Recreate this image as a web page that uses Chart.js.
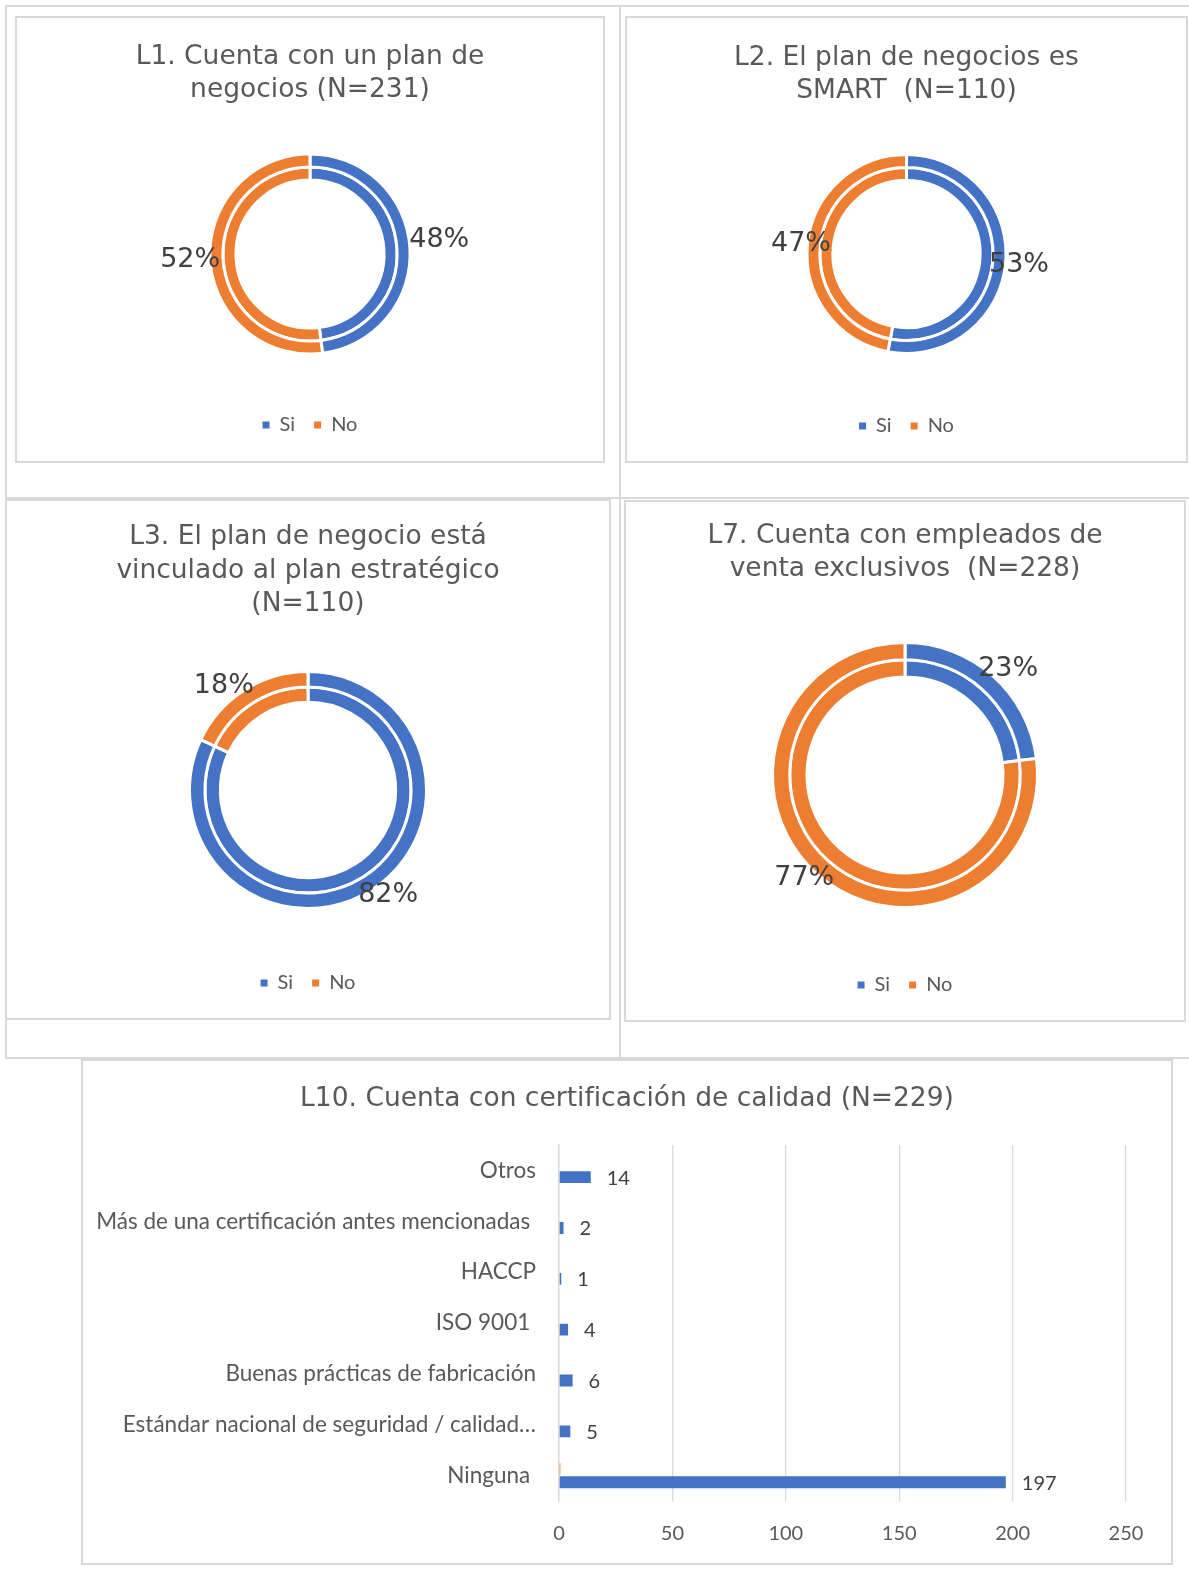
<!DOCTYPE html>
<html lang="es">
<head>
<meta charset="utf-8">
<title>Planes de negocio y certificación</title>
<script src="https://cdn.jsdelivr.net/npm/chart.js@4.4.1/dist/chart.umd.min.js"></script>
<style>
  html, body { margin: 0; padding: 0; background: #fff; }
  #hoja { position: relative; width: 1189px; height: 1593px; overflow: hidden; }
  .linea { position: absolute; background: #d9d9d9; }
  .caja { position: absolute; box-sizing: border-box; border: 2px solid #d9d9d9; background: #fff; }
  .caja canvas { display: block; }
</style>
</head>
<body>
<div id="hoja">
  <!-- lineas de la tabla -->
  <div class="linea" style="left:5px;top:5px;width:1184px;height:2px"></div>
  <div class="linea" style="left:5px;top:5px;width:2px;height:1054px"></div>
  <div class="linea" style="left:619px;top:5px;width:2px;height:1054px"></div>
  <div class="linea" style="left:5px;top:497px;width:1184px;height:2px"></div>
  <div class="linea" style="left:5px;top:1057px;width:1184px;height:2px"></div>

  <div class="caja" id="caja-l1"><canvas id="l1"></canvas></div>
  <div class="caja" id="caja-l2"><canvas id="l2"></canvas></div>
  <div class="caja" id="caja-l3"><canvas id="l3"></canvas></div>
  <div class="caja" id="caja-l7"><canvas id="l7"></canvas></div>
  <div class="caja" id="caja-l10"><canvas id="l10"></canvas></div>
</div>

<script>
// datos
const respuestas = ["Si", "No"];
const coloresRespuesta = ["#4472C4", "#ED7D31"];

const tituloL1 = ["L1. Cuenta con un plan de", "negocios (N=231)"];
const pctL1 = [48, 52];

const tituloL2 = ["L2. El plan de negocios es", "SMART  (N=110)"];
const pctL2 = [53, 47];

const tituloL3 = ["L3. El plan de negocio está", "vinculado al plan estratégico", "(N=110)"];
const pctL3 = [82, 18];

const tituloL7 = ["L7. Cuenta con empleados de", "venta exclusivos  (N=228)"];
const pctL7 = [23, 77];

const tituloL10 = "L10. Cuenta con certificación de calidad (N=229)";
const certificaciones = [
  "Otros",
  "Más de una certificación antes mencionadas ",
  "HACCP",
  "ISO 9001 ",
  "Buenas prácticas de fabricación",
  "Estándar nacional de seguridad / calidad…",
  "Ninguna "
];
const empresas = [14, 2, 1, 4, 6, 5, 197];
const otraSerie = [null, null, null, null, null, null, 0.6];
const ticksX = [0, 50, 100, 150, 200, 250];

// estilos comunes
const gris = "#595959";
const grisOscuro = "#404040";
const fuenteTitulo = { family: "'DejaVu Sans', Verdana, sans-serif", size: 26.5, weight: "normal", lineHeight: 1.25 };
const fuenteEtiqueta = "Lato, 'Noto Sans', sans-serif";

Chart.defaults.font.family = fuenteEtiqueta;
Chart.defaults.color = gris;

// porcentajes junto al anillo exterior
const etiquetasPct = {
  id: "etiquetasPct",
  afterDatasetsDraw(chart, args, opts) {
    const meta = chart.getDatasetMeta(0);
    const ctx = chart.ctx;
    ctx.save();
    ctx.font = "27px 'DejaVu Sans', Verdana, sans-serif";
    ctx.fillStyle = grisOscuro;
    ctx.textAlign = "center";
    ctx.textBaseline = "middle";
    meta.data.forEach((arco, i) => {
      const p = arco.getProps(["x", "y", "startAngle", "endAngle"], true);
      const medio = (p.startAngle + p.endAngle) / 2 + (opts.giro[i] * Math.PI) / 180;
      const d = opts.dist[i];
      ctx.fillText(chart.data.datasets[0].data[i] + "%", p.x + Math.cos(medio) * d, p.y + Math.sin(medio) * d);
    });
    ctx.restore();
  }
};

// valor al final de cada barra azul
const valoresBarras = {
  id: "valoresBarras",
  afterDatasetsDraw(chart) {
    const meta = chart.getDatasetMeta(1);
    const ctx = chart.ctx;
    ctx.save();
    ctx.font = "20px " + fuenteEtiqueta;
    ctx.fillStyle = grisOscuro;
    ctx.textAlign = "left";
    ctx.textBaseline = "middle";
    meta.data.forEach((barra, i) => {
      const p = barra.getProps(["x", "y"], true);
      ctx.fillText(String(chart.data.datasets[1].data[i]), p.x + 16, p.y + 1);
    });
    ctx.restore();
  }
};

function colocarCaja(id, c) {
  const caja = document.getElementById("caja-" + id);
  caja.style.left = c.x + "px";
  caja.style.top = c.y + "px";
  caja.style.width = c.w + "px";
  caja.style.height = c.h + "px";
  const canvas = document.getElementById(id);
  canvas.width = c.w - 4;
  canvas.height = c.h - 4;
  return canvas;
}

function dona(id, c, titulo, valores) {
  const canvas = colocarCaja(id, c);
  const H = c.h - 4;
  const arriba = c.y + 2;
  const LH = fuenteTitulo.size * fuenteTitulo.lineHeight;
  const tamLeyenda = 20, sepLeyenda = 19;
  // reparto vertical: titulo, dona centrada en cy, leyenda abajo
  const padAbajo = H - (c.ly - arriba) - (tamLeyenda / 2 + 10);
  const topeLeyenda = H - padAbajo - (tamLeyenda + sepLeyenda + 10);
  const titArriba = (c.t1 - arriba) - LH / 2;
  const titAbajo = 2 * (c.cy - arriba) - topeLeyenda - titArriba - titulo.length * LH;

  const serie = () => ({
    data: valores,
    backgroundColor: coloresRespuesta,
    borderColor: "#fff",
    borderWidth: 3
  });

  new Chart(canvas, {
    type: "doughnut",
    data: { labels: respuestas, datasets: [serie(), serie()] },
    options: {
      responsive: false,
      animation: false,
      radius: c.r + 1.5,
      cutout: "74%",
      layout: { padding: { bottom: padAbajo } },
      plugins: {
        title: {
          display: true,
          text: titulo,
          color: gris,
          font: fuenteTitulo,
          padding: { top: titArriba, bottom: titAbajo }
        },
        legend: {
          position: "bottom",
          labels: {
            boxWidth: 7,
            boxHeight: 7,
            padding: sepLeyenda,
            color: gris,
            font: { family: fuenteEtiqueta, size: tamLeyenda },
            generateLabels: (chart) =>
              Chart.overrides.doughnut.plugins.legend.labels.generateLabels(chart)
                .map(l => Object.assign(l, { lineWidth: 0 }))
          }
        },
        tooltip: { enabled: false },
        etiquetasPct: { dist: c.dist, giro: c.giro }
      }
    },
    plugins: [etiquetasPct]
  });
}

dona("l1", { x: 15, y: 16, w: 590, h: 447, t1: 57, cy: 254, ly: 425, r: 98.6, dist: [130, 120], giro: [-2.7, 0.7] }, tituloL1, pctL1);
dona("l2", { x: 625, y: 16, w: 563, h: 447, t1: 58, cy: 254, ly: 426, r: 98, dist: [113, 106], giro: [0, 0] }, tituloL2, pctL2);
dona("l3", { x: 5, y: 499, w: 606, h: 521, t1: 537.5, cy: 790, ly: 983, r: 117, dist: [132, 134], giro: [-5, -6.5] }, tituloL3, pctL3);
dona("l7", { x: 624, y: 500, w: 562, h: 522, t1: 536, cy: 775, ly: 985, r: 131, dist: [148, 144], giro: [2.8, 3] }, tituloL7, pctL7);

// barras horizontales L10
const cajaL10 = { x: 81, y: 1059, w: 1092, h: 506 };
const canvasL10 = colocarCaja("l10", cajaL10);

new Chart(canvasL10, {
  type: "bar",
  data: {
    labels: certificaciones,
    datasets: [
      { data: otraSerie, backgroundColor: "#ED7D31" },
      { data: empresas, backgroundColor: "#4472C4" }
    ]
  },
  options: {
    indexAxis: "y",
    responsive: false,
    animation: false,
    categoryPercentage: 0.52,
    barPercentage: 0.9,
    scales: {
      x: {
        min: 0,
        max: 250,
        afterBuildTicks: (s) => { s.ticks = ticksX.map(v => ({ value: v })); },
        ticks: { padding: 21, color: gris, font: { size: 20 } },
        grid: { color: "#d9d9d9", lineWidth: 1.3, drawTicks: false },
        border: { display: false },
        afterFit: (s) => { s.height = 62; }
      },
      y: {
        ticks: { padding: 23, color: gris, font: { size: 22.5 }, autoSkip: false },
        grid: { display: false, drawTicks: false },
        border: { color: "#d9d9d9", width: 1.3 },
        afterFit: (s) => { s.width = 476; }
      },
      // eje vacío a la derecha: deja el margen tras el 250 sin descentrar el título
      margenDer: {
        type: "category",
        axis: "y",
        position: "right",
        grid: { display: false, drawTicks: false },
        border: { display: false },
        ticks: { display: false },
        afterFit: (s) => { s.width = 45; }
      }
    },
    plugins: {
      legend: { display: false },
      tooltip: { enabled: false },
      title: {
        display: true,
        text: tituloL10,
        color: gris,
        font: fuenteTitulo,
        padding: { top: 22, bottom: 29 }
      }
    }
  },
  plugins: [valoresBarras]
});
</script>
</body>
</html>
